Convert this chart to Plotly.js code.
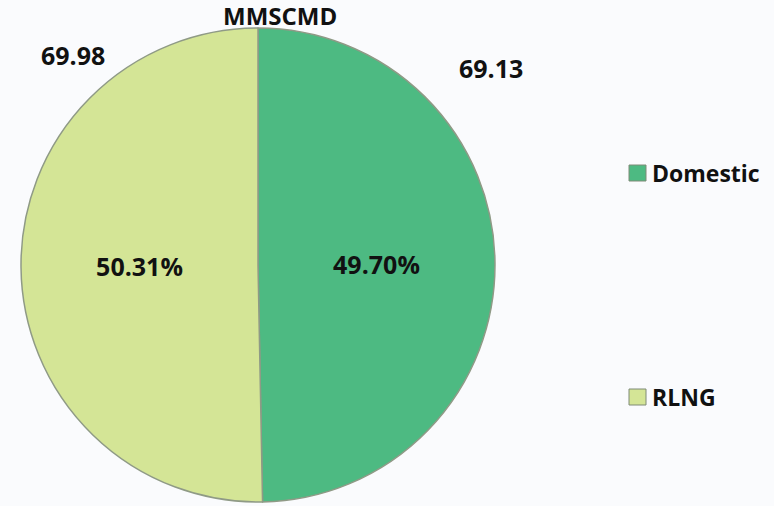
<!DOCTYPE html>
<html>
<head>
<meta charset="utf-8">
<script src="https://cdn.plot.ly/plotly-3.0.1.min.js"></script>
<style>html,body{margin:0;padding:0;background:#fafbfd;}#chart{width:774px;height:506px;}</style>
</head>
<body>
<div id="chart"></div>
<script>
var categories = ['Domestic', 'RLNG'];
var values = [69.13, 69.98];
var percentLabels = ['49.70%', '50.31%'];
var valueLabels = ['69.13', '69.98'];
var chartTitle = 'MMSCMD';

var colors = ['#4dba82', '#d4e596'];
var FONT = 'Open Sans, Liberation Sans, sans-serif';

var trace = {
  type: 'pie',
  labels: categories,
  values: values,
  text: percentLabels,
  texttemplate: '%{text}',
  textinfo: 'text',
  textposition: 'inside',
  insidetextorientation: 'horizontal',
  insidetextfont: {family: FONT, size: 25, color: '#111111', weight: 'bold'},
  sort: false,
  direction: 'clockwise',
  rotation: 0,
  marker: {colors: colors, line: {color: '#8f9a86', width: 1.5}},
  domain: {x: [21/774, 495/774], y: [4/506, 478/506]},
  showlegend: false,
  hoverinfo: 'label+value+percent'
};

var annotations = [
  {text: chartTitle, x: 280/774, y: 1 - 15/506, xref: 'paper', yref: 'paper', showarrow: false,
   xanchor: 'center', yanchor: 'middle', font: {family: FONT, size: 24, color: '#111111', weight: 'bold'}},
  {text: valueLabels[0], x: 491/774, y: 1 - 68/506, xref: 'paper', yref: 'paper', showarrow: false,
   xanchor: 'center', yanchor: 'middle', font: {family: FONT, size: 25, color: '#111111', weight: 'bold'}},
  {text: valueLabels[1], x: 73/774, y: 1 - 55/506, xref: 'paper', yref: 'paper', showarrow: false,
   xanchor: 'center', yanchor: 'middle', font: {family: FONT, size: 25, color: '#111111', weight: 'bold'}}
];
var legendY = [173, 397];
var shapes = [];
for (var i = 0; i < categories.length; i++) {
  annotations.push({text: categories[i], x: 650/774, y: 1 - legendY[i]/506, xref: 'paper', yref: 'paper',
    showarrow: false, xanchor: 'left', yanchor: 'middle',
    font: {family: FONT, size: 23, color: '#111111', weight: 'bold'}});
  shapes.push({type: 'rect', xref: 'paper', yref: 'paper',
    x0: 629/774, x1: 646/774, y0: 1 - (legendY[i] + 8)/506, y1: 1 - (legendY[i] - 8)/506,
    fillcolor: colors[i], line: {color: '#7f8a76', width: 1}});
}

var layout = {
  width: 774, height: 506,
  margin: {l: 0, r: 0, t: 0, b: 0},
  paper_bgcolor: '#fafbfd',
  plot_bgcolor: '#fafbfd',
  showlegend: false,
  annotations: annotations,
  shapes: shapes
};

Plotly.newPlot('chart', [trace], layout, {displayModeBar: false, staticPlot: true});
</script>
</body>
</html>
